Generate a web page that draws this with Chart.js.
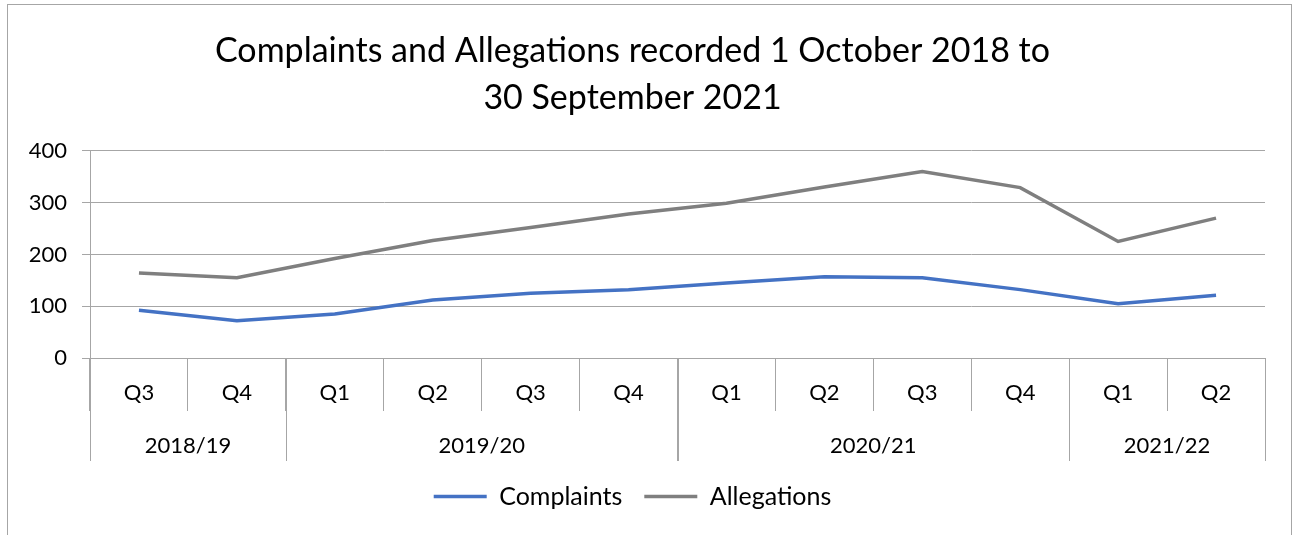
<!DOCTYPE html>
<html>
<head>
<meta charset="utf-8">
<script src="https://cdn.jsdelivr.net/npm/chart.js@4.4.1/dist/chart.umd.min.js"></script>
<style>
html,body{margin:0;padding:0;background:#fff;}
#wrap{position:relative;width:1298px;height:535px;}
</style>
</head>
<body>
<div id="wrap"><canvas id="chart" width="1298" height="535"></canvas></div>
<script>
// values
const quarters=['Q3','Q4','Q1','Q2','Q3','Q4','Q1','Q2','Q3','Q4','Q1','Q2'];
const years=['2018/19','2019/20','2020/21','2021/22'];
const yearSpans=[2,4,4,2];
const complaints=[92,72,85,112,125,132,145,157,155,132,105,121];
const allegations=[164,155,192,227,252,278,299,330,360,329,225,270];
const yTicks=[0,100,200,300,400];

const FONT='Lato, "Open Sans", sans-serif';
const GRID='#a6a6a6';

// outer frame of the chart object
const framePlugin={
id:'frame',
beforeDraw(chart){
const ctx=chart.ctx;
ctx.save();
ctx.fillStyle='#fff';
ctx.fillRect(0,0,chart.width,chart.height);
ctx.strokeStyle='#a6a6a6';
ctx.lineWidth=1;
ctx.strokeRect(7.5,4.5,1284,600);
ctx.restore();
}
};

// second row of the category axis: financial years
const yearRowPlugin={
id:'yearRow',
afterDraw(chart){
const xs=chart.scales.x;
const ctx=chart.ctx;
const top=chart.chartArea.bottom;
const half=(xs.getPixelForValue(1)-xs.getPixelForValue(0))/2;
ctx.save();
ctx.strokeStyle=GRID;
ctx.lineWidth=1;
ctx.fillStyle='#000';
ctx.font='22px '+FONT;
ctx.textAlign='center';
ctx.textBaseline='middle';
let idx=0;
const edges=[];
yearSpans.forEach((n,i)=>{
const left=xs.getPixelForValue(idx)-half;
const right=xs.getPixelForValue(idx+n-1)+half;
edges.push(left,right);
ctx.fillText(years[i],(left+right)/2,top+88);
idx+=n;
});
edges.forEach(x=>{
const px=Math.round(x)+0.5;
ctx.beginPath();
ctx.moveTo(px,top);
ctx.lineTo(px,top+103);
ctx.stroke();
});
ctx.restore();
}
};

new Chart(document.getElementById('chart'),{
type:'line',
data:{
labels:quarters,
datasets:[
{label:'Complaints',data:complaints,borderColor:'#4472c4',backgroundColor:'#4472c4',borderWidth:3.5,pointRadius:0,tension:0},
{label:'Allegations',data:allegations,borderColor:'#7f7f7f',backgroundColor:'#7f7f7f',borderWidth:3.5,pointRadius:0,tension:0}
]
},
options:{
responsive:false,
animation:false,
events:[],
layout:{padding:{left:0,right:33,top:0,bottom:16}},
plugins:{
title:{
display:true,
text:['Complaints and Allegations recorded 1 October 2018 to','30 September 2021'],
color:'#000',
font:{family:FONT,size:34,weight:'normal',lineHeight:1.38},
padding:{top:28,bottom:29}
},
legend:{
display:true,
position:'bottom',
labels:{
usePointStyle:true,
pointStyle:'line',
pointStyleWidth:53,
color:'#000',
font:{family:FONT,size:25},
padding:22
}
},
tooltip:{enabled:false}
},
scales:{
x:{
offset:true,
grid:{offset:true,drawOnChartArea:false,color:GRID,tickLength:53,tickColor:GRID},
border:{color:GRID},
ticks:{color:'#000',font:{family:FONT,size:22},padding:-31,maxRotation:0,autoSkip:false},
afterFit(scale){scale.height=104;}
},
y:{
min:0,max:400,
afterBuildTicks(scale){scale.ticks=yTicks.map(v=>({value:v}));},
grid:{color:GRID,tickLength:8,tickColor:GRID},
border:{color:GRID},
ticks:{color:'#000',font:{family:FONT,size:22},padding:15},
afterFit(scale){scale.width=90;}
}
}
},
plugins:[framePlugin,yearRowPlugin]
});
</script>
</body>
</html>
